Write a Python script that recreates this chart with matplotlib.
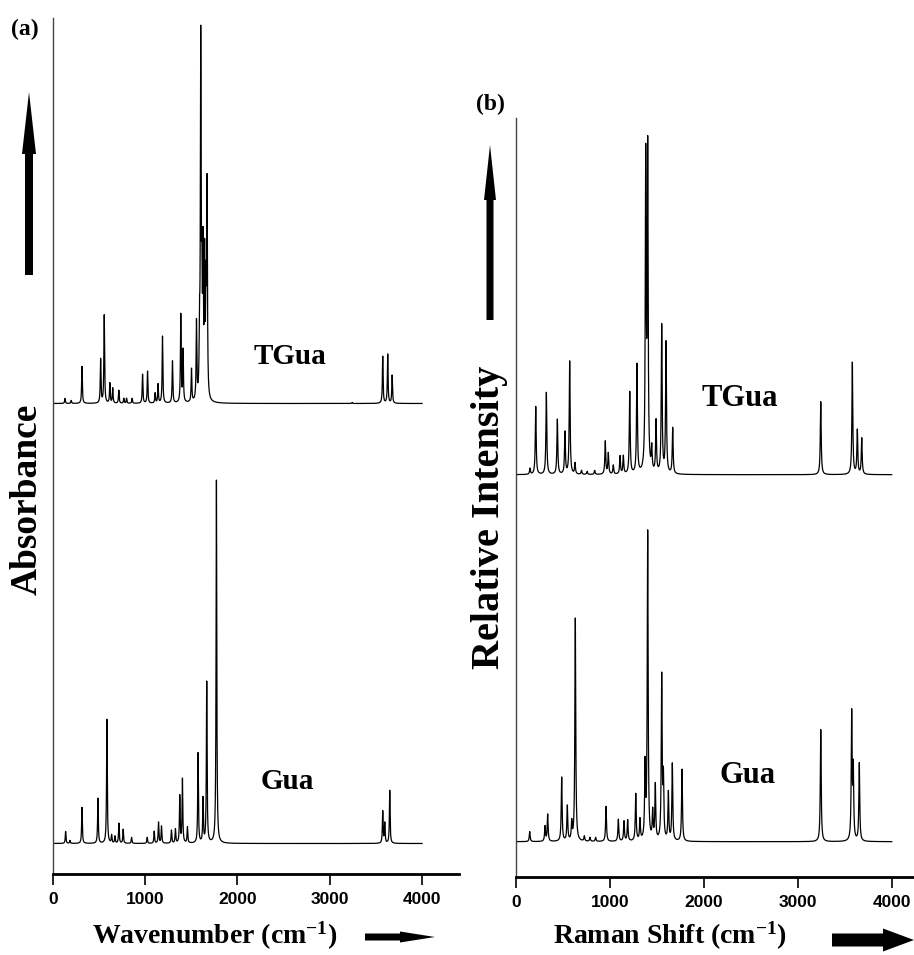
import numpy as np
import matplotlib
matplotlib.use("Agg")
import matplotlib.pyplot as plt
from matplotlib import font_manager as fm
from matplotlib.patches import FancyArrow

# peak positions (cm-1) and heights (arbitrary units)
ir_tgua_pos = [133, 200, 317, 519, 558, 619, 650, 716, 770, 800, 860, 973, 1027,
               1109, 1141, 1189, 1297, 1387, 1412, 1503, 1557, 1590, 1603, 1615,
               1628, 1645, 1660, 1672, 3243, 3574, 3628, 3676]
ir_tgua_int = [5, 3, 37, 44, 88, 20, 15, 13, 5, 5, 5, 29, 32,
               10, 19, 67, 42, 88, 52, 33, 78, 60, 350, 110,
               140, 135, 100, 210, 1, 47, 49, 28]

ir_gua_pos = [140, 187, 317, 490, 587, 638, 674, 717, 763, 854, 1023, 1099, 1146,
              1178, 1286, 1329, 1376, 1405, 1459, 1574, 1628, 1668, 1773,
              3574, 3596, 3650]
ir_gua_int = [12, 3, 36, 45, 124, 8, 7, 20, 14, 6, 6, 12, 21,
              17, 13, 14, 47, 64, 16, 90, 44, 161, 363,
              32, 20, 53]

ra_tgua_pos = [152, 213, 326, 443, 524, 574, 631, 700, 760, 840, 953, 985, 1038,
               1110, 1145, 1213, 1290, 1383, 1404, 1447, 1493, 1553, 1599, 1670,
               3245, 3581, 3634, 3681]
ra_tgua_int = [6, 68, 82, 55, 42, 113, 11, 4, 3, 4, 33, 21, 9,
               18, 18, 82, 109, 310, 318, 23, 52, 148, 131, 46,
               73, 112, 44, 36]

ra_gua_pos = [149, 312, 340, 489, 549, 596, 634, 730, 790, 850, 961, 1092, 1152,
              1191, 1277, 1322, 1376, 1404, 1457, 1485, 1553, 1571, 1624, 1666,
              1769, 3245, 3574, 3591, 3655]
ra_gua_int = [10, 15, 27, 64, 35, 18, 223, 5, 4, 4, 35, 22, 20,
              21, 47, 21, 73, 308, 28, 55, 163, 60, 48, 77,
              72, 112, 126, 70, 78]

ir_offset = 440      # vertical shift of TGua trace in (a)
ra_offset = 367      # vertical shift of TGua trace in (b)
ticks = [0, 1000, 2000, 3000, 4000]

SERIF = "Liberation Serif"
plt.rcParams["mathtext.fontset"] = "custom"
plt.rcParams["mathtext.bf"] = "Liberation Serif:bold"
plt.rcParams["mathtext.rm"] = "Liberation Serif"
plt.rcParams["mathtext.it"] = "Liberation Serif:italic"

# condensed sans for tick labels if present, else plain Liberation Sans
installed = {f.name for f in fm.fontManager.ttflist}
if "Liberation Sans Narrow" in installed:
    TICK_FONT, TICK_SIZE = "Liberation Sans Narrow", 14.5
else:
    TICK_FONT, TICK_SIZE = "Liberation Sans", 12.5


def spectrum(pos, inten, gamma, grid):
    """Sum of Lorentzian bands."""
    y = np.zeros_like(grid)
    for p, h in zip(pos, inten):
        y += h * gamma**2 / ((grid - p) ** 2 + gamma**2)
    return y


W, H = 914, 955
fig = plt.figure(figsize=(W / 100, H / 100), dpi=100)

grid = np.arange(0, 4000.5, 0.5)


def px_axes(left, right, top, bottom):
    return fig.add_axes([left / W, 1 - bottom / H, (right - left) / W, (bottom - top) / H])


def style(ax, xmax):
    ax.set_xlim(0, xmax)
    ax.set_xticks(ticks)
    ax.set_yticks([])
    for s in ("top", "right"):
        ax.spines[s].set_visible(False)
    ax.spines["bottom"].set_linewidth(2.0)
    ax.spines["left"].set_linewidth(1.0)
    ax.spines["left"].set_color("#444444")
    ax.tick_params(axis="x", direction="out", length=8, width=1.2, pad=5)
    for lab in ax.get_xticklabels():
        lab.set_family(TICK_FONT)
        lab.set_fontweight("bold")
        lab.set_fontsize(TICK_SIZE)


# (a) IR
ax1 = px_axes(52.7, 459, 18, 874)
ax1.plot(grid, spectrum(ir_tgua_pos, ir_tgua_int, 4.5, grid) + ir_offset, color="black", lw=0.9)
ax1.plot(grid, spectrum(ir_gua_pos, ir_gua_int, 4.5, grid), color="black", lw=0.9)
ax1.set_ylim(-30.5, 825.5)
style(ax1, 4400)
ax1.text(2570, ir_offset + 47, "TGua", fontsize=21, fontweight="bold", family=SERIF,
         ha="center", va="center")
ax1.text(2540, 62, "Gua", fontsize=21, fontweight="bold", family=SERIF,
         ha="center", va="center")

# (b) Raman
ax2 = px_axes(515.7, 914, 118, 877)
ax2.plot(grid, spectrum(ra_tgua_pos, ra_tgua_int, 5.5, grid) + ra_offset, color="black", lw=0.9)
ax2.plot(grid, spectrum(ra_gua_pos, ra_gua_int, 5.5, grid), color="black", lw=0.9)
ax2.set_ylim(-35.3, 723.7)
style(ax2, 4237)
ax2.text(2380, ra_offset + 76, "TGua", fontsize=22, fontweight="bold", family=SERIF,
         ha="center", va="center")
ax2.text(2465, 66, "Gua", fontsize=22, fontweight="bold", family=SERIF,
         ha="center", va="center")

# overlay in pixel coordinates for labels and arrows
ov = fig.add_axes([0, 0, 1, 1])
ov.set_xlim(0, W)
ov.set_ylim(H, 0)
ov.axis("off")
ov.patch.set_alpha(0)

bold = dict(fontweight="bold", family=SERIF, color="black")
ov.text(25, 29, "(a)", fontsize=17, ha="center", va="center", **bold)
ov.text(490, 104, "(b)", fontsize=17, ha="center", va="center", **bold)
ov.text(27, 499, "Absorbance", fontsize=27, rotation=90, ha="center", va="center", **bold)
ov.text(489, 517, "Relative Intensity", fontsize=29, rotation=90, ha="center", va="center", **bold)
ov.text(215, 936, r"Wavenumber (cm$^{\mathbf{-1}}$)", fontsize=20, ha="center", va="center", **bold)
ov.text(670, 936, r"Raman Shift (cm$^{\mathbf{-1}}$)", fontsize=20, ha="center", va="center", **bold)

arrows = [
    (29, 275, 0, -183, 8, 14, 62),
    (490, 320, 0, -175, 7, 12, 55),
    (365, 937, 70, 0, 7, 11, 35),
    (832, 940, 82, 0, 13, 23, 31),
]
for x, y, dx, dy, w, hw, hl in arrows:
    ov.add_patch(FancyArrow(x, y, dx, dy, width=w, head_width=hw, head_length=hl,
                            length_includes_head=True, color="black", lw=0))

fig.savefig("out.png", dpi=100)
